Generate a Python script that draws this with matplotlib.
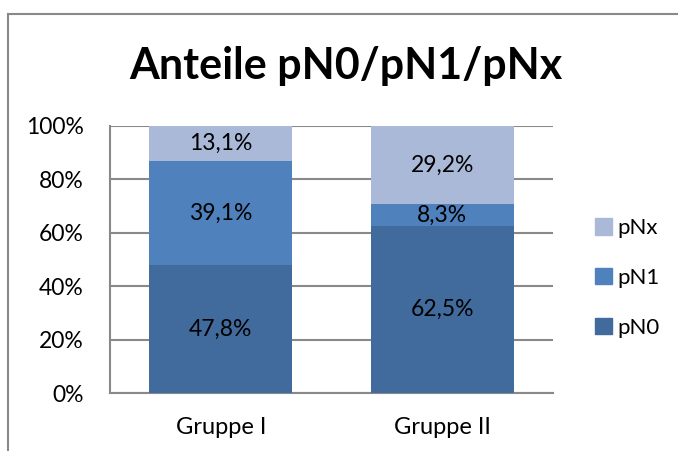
import matplotlib.pyplot as plt
from matplotlib.patches import Patch
from matplotlib.lines import Line2D

# Data (percent of each group)
groups = ['Gruppe I', 'Gruppe II']
pN0 = [47.8, 62.5]
pN1 = [39.1, 8.3]
pNx = [13.1, 29.2]
series = [('pN0', pN0, '#416a9d'), ('pN1', pN1, '#4f81bd'), ('pNx', pNx, '#aab9d8')]
yticks = [0, 20, 40, 60, 80, 100]

plt.rcParams['font.family'] = ['Lato', 'DejaVu Sans']
grey = '#898989'
fs = 16.5

fig = plt.figure(figsize=(6.78, 4.51), dpi=100)
ax = fig.add_axes([110 / 678, 58 / 451, 443 / 678, 267 / 451])

x = range(len(groups))
bottom = [0, 0]
for name, vals, col in series:
    ax.bar(x, vals, width=0.645, bottom=bottom, color=col, zorder=3)
    for i, v in enumerate(vals):
        ax.text(i, bottom[i] + v / 2, f'{v:.1f}%'.replace('.', ','),
                ha='center', va='center', fontsize=fs, color='black', zorder=4)
    bottom = [b + v for b, v in zip(bottom, vals)]

ax.set_xlim(-0.5, 1.5)
ax.set_ylim(0, 100)
ax.set_yticks(yticks)
ax.set_yticklabels([f'{t}%' for t in yticks], fontsize=fs)
ax.set_xticks(list(x))
ax.set_xticklabels(groups, fontsize=17)
ax.tick_params(axis='both', length=0)
ax.tick_params(axis='y', pad=19)
ax.tick_params(axis='x', pad=17)
ax.grid(axis='y', color=grey, linewidth=1.5, zorder=0)
for side in ['top', 'right']:
    ax.spines[side].set_visible(False)
for side in ['left', 'bottom']:
    ax.spines[side].set_color(grey)
    ax.spines[side].set_linewidth(1.5)

# title
fig.text(346 / 678, 1 - 66 / 451, 'Anteile pN0/pN1/pNx', ha='center', va='center',
         fontsize=31, fontweight='bold')

# legend, top entry is pNx
handles = [Patch(color=c, label=n) for n, v, c in series[::-1]]
fig.legend(handles=handles, loc='center left', bbox_to_anchor=(575 / 678, 1 - 278 / 451),
           frameon=False, fontsize=16, handlelength=0.75, handleheight=0.75,
           handletextpad=0.27, labelspacing=1.34)

# outer chart frame
fig.add_artist(Line2D([8 / 678, 8 / 678], [0, 1 - 14 / 451], color=grey, linewidth=1.5))
fig.add_artist(Line2D([8 / 678, 1], [1 - 14 / 451, 1 - 14 / 451], color=grey, linewidth=1.5))

fig.savefig('out.png', dpi=100)
